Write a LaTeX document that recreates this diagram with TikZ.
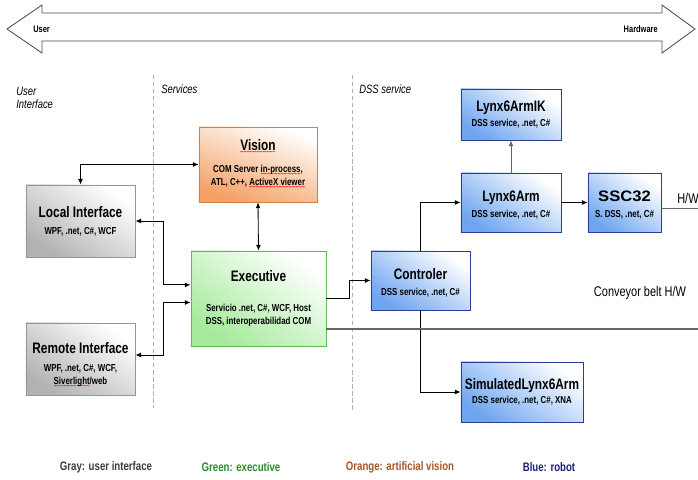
\documentclass[tikz,border=0pt]{standalone}
\usepackage{fontspec}
\setmainfont{Liberation Sans}[FakeStretch=0.78]
\usepackage{xcolor}
\usepackage{graphicx}
\usepackage{tikz}
\usetikzlibrary{positioning,arrows.meta,shapes}

\definecolor{uigray}{RGB}{178,178,178}
\definecolor{uiedge}{RGB}{150,150,150}
\definecolor{exgreen}{RGB}{165,234,155}
\definecolor{exedge}{RGB}{95,185,85}
\definecolor{visorange}{RGB}{244,160,100}
\definecolor{visedge}{RGB}{205,130,75}
\definecolor{robblue}{RGB}{110,165,240}
\definecolor{robedge}{RGB}{45,60,150}
\definecolor{leggray}{RGB}{60,60,60}
\definecolor{leggreen}{RGB}{40,140,40}
\definecolor{legorange}{RGB}{165,85,40}
\definecolor{legblue}{RGB}{30,30,125}

% red spelling wave under a word
\newcommand\redwave[1]{\setbox0\hbox{#1}\rlap{\raisebox{-3.2pt}{\color{red}\hbox to \wd0{\xleaders\hbox{\fontsize{5}{5}\selectfont\textasciitilde}\hfill}}}\box0}

\newcommand\ttl{\fontsize{10.8}{12.4}\selectfont\bfseries}
\newcommand\sub{\fontsize{7.2}{9.3}\selectfont\bfseries}

\tikzset{
	unit/.style={draw, align=center, inner sep=1pt, line width=0.6pt, font=\sub},
	guibox/.style={unit, draw=uiedge, top color=white, bottom color=uigray, shading angle=-35},
	execbox/.style={unit, draw=exedge, top color=white, bottom color=exgreen, shading angle=-35},
	visionbox/.style={unit, draw=visedge, top color=white, bottom color=visorange, shading angle=-20},
	robotbox/.style={unit, draw=robedge, top color=white, bottom color=robblue, shading angle=-35},
	link/.style={draw=black, line width=0.6pt},
	lane/.style={draw=gray!60, dash pattern=on 3pt off 2pt, line width=0.4pt},
	axisarrow/.style={draw=black!70, fill=white, line width=0.6pt},
	endlabel/.style={font=\fontsize{6.8}{8}\selectfont\bfseries, inner sep=0pt},
	column/.style={font=\fontsize{8.6}{9.5}\selectfont\itshape, inner sep=0pt, align=left},
	legend/.style={font=\fontsize{8.8}{11}\selectfont\bfseries, inner sep=0pt},
	plain/.style={font=\fontsize{10}{12}\selectfont, inner sep=0pt}
}

\begin{document}
\begin{tikzpicture}[x=0.025cm, y=-0.025cm, >={Latex[length=4pt,width=3.4pt]}]
	\useasboundingbox (0,0) rectangle (698,480);

	% draw the user/hardware arrow
	\draw[axisarrow] (7,29) -- (42,5) -- (42,13) -- (662,13) -- (662,5) -- (695,29)
		-- (662,53) -- (662,41) -- (42,41) -- (42,53) -- cycle;
	\node[endlabel, anchor=west] (user) at (33,29) {User};
	\node[endlabel, anchor=east] (hardware) at (658,29) {Hardware};

	% columns
	\draw[lane] (153,75) -- (153,408);
	\draw[lane] (352,75) -- (352,410);
	\node[column, anchor=north west] (colui) at (16,87) {User\\Interface};
	\node[column, anchor=west] (colsrv) at (161,89) {Services};
	\node[column, anchor=west] (coldss) at (359,89) {DSS service};

	% boxes
	\node[visionbox, minimum width=2.95cm, minimum height=1.875cm] (vision) at (258,164.5)
		{{\ttl \redwave{Vision}}\\[6.4pt]COM Server \redwave{in-process},\\ATL, C++, \redwave{ActiveX viewer}};
	\node[guibox, minimum width=2.725cm, minimum height=1.8cm] (local) at (80.5,221)
		{{\ttl Local Interface}\\[2.6pt]WPF, .net, C\#, WCF};
	\node[guibox, minimum width=2.725cm, minimum height=1.8cm] (remote) at (80.5,359)
		{{\ttl \rule{0pt}{17pt}Remote Interface}\\[3.5pt]WPF, .net, C\#, WCF,\\\redwave{Siverlight}/web};
	\node[execbox, minimum width=3.375cm, minimum height=2.375cm] (exec) at (258.5,298.5)
		{{\ttl Executive}\\[12pt]Servicio .net, C\#, WCF, Host\\DSS, interoperabilidad COM};
	\node[robotbox, minimum width=2.475cm, minimum height=1.475cm] (ctrl) at (420.5,280.5)
		{{\ttl \rule{0pt}{11pt}Controler}\\[2.5pt]DSS service, .net, C\#};
	\node[robotbox, minimum width=2.5cm, minimum height=1.275cm] (armik) at (511,114.5)
		{{\ttl Lynx6ArmIK}\\[1.5pt]DSS service, .net, C\#};
	\node[robotbox, minimum width=2.5cm, minimum height=1.475cm] (arm) at (511,202.5)
		{{\ttl \rule{0pt}{11pt}Lynx6Arm}\\[2pt]DSS service, .net, C\#};
	\node[robotbox, minimum width=1.825cm, minimum height=1.475cm] (ssc) at (624.5,202.5)
		{{\ttl \rule{0pt}{11pt}\scalebox{1.4}[1]{SSC32}}\\[2pt]S. DSS, .net, C\#};
	\node[robotbox, minimum width=3.05cm, minimum height=1.5cm] (sim) at (522,392)
		{{\ttl SimulatedLynx6Arm}\\[0.7pt]DSS service, .net, C\#, XNA};

	% links
	\draw[link, <->] (local.north) |- (vision.west);
	\draw[link, <->] (vision.south) -- (exec.north);
	\draw[link, <->] (local.east) -- ++(28,0) |- ([yshift=0.34cm]exec.west);
	\draw[link, <->] ([yshift=0.1cm]remote.east) -- ++(28,0) |- ([yshift=-0.1cm]exec.west);
	\draw[link, ->] (exec.east) -- ++(23,0) |- (ctrl.west);
	\draw[link, ->] (ctrl.north) |- (arm.west);
	\draw[link, ->] (ctrl.south) |- (sim.west);
	\draw[link, ->, draw=black!60] (arm.north) -- (armik.south);
	\draw[link, ->] (arm.east) -- (ssc.west);

	% hardware lines
	\coordinate (hwend) at (698,208);
	\coordinate (beltend) at (698,329);
	\draw[draw=black!60, line width=0.7pt] (ssc.east |- hwend) -- (hwend);
	\draw[draw=black!60, line width=1pt] (exec.east |- beltend) -- (beltend);
	\node[plain, anchor=west] (hw) at (677,198) {H/W};
	\node[plain] (belt) at (640,293) {Conveyor belt H/W};

	% legend
	\node[legend, text=leggray] (leggray) at (106,467) {Gray: user interface};
	\node[legend, text=leggreen] (leggreen) at (241,467) {Green: executive};
	\node[legend, text=legorange] (legorange) at (400,467) {Orange: artificial vision};
	\node[legend, text=legblue] (legblue) at (549,467) {Blue: robot};
\end{tikzpicture}
\end{document}
